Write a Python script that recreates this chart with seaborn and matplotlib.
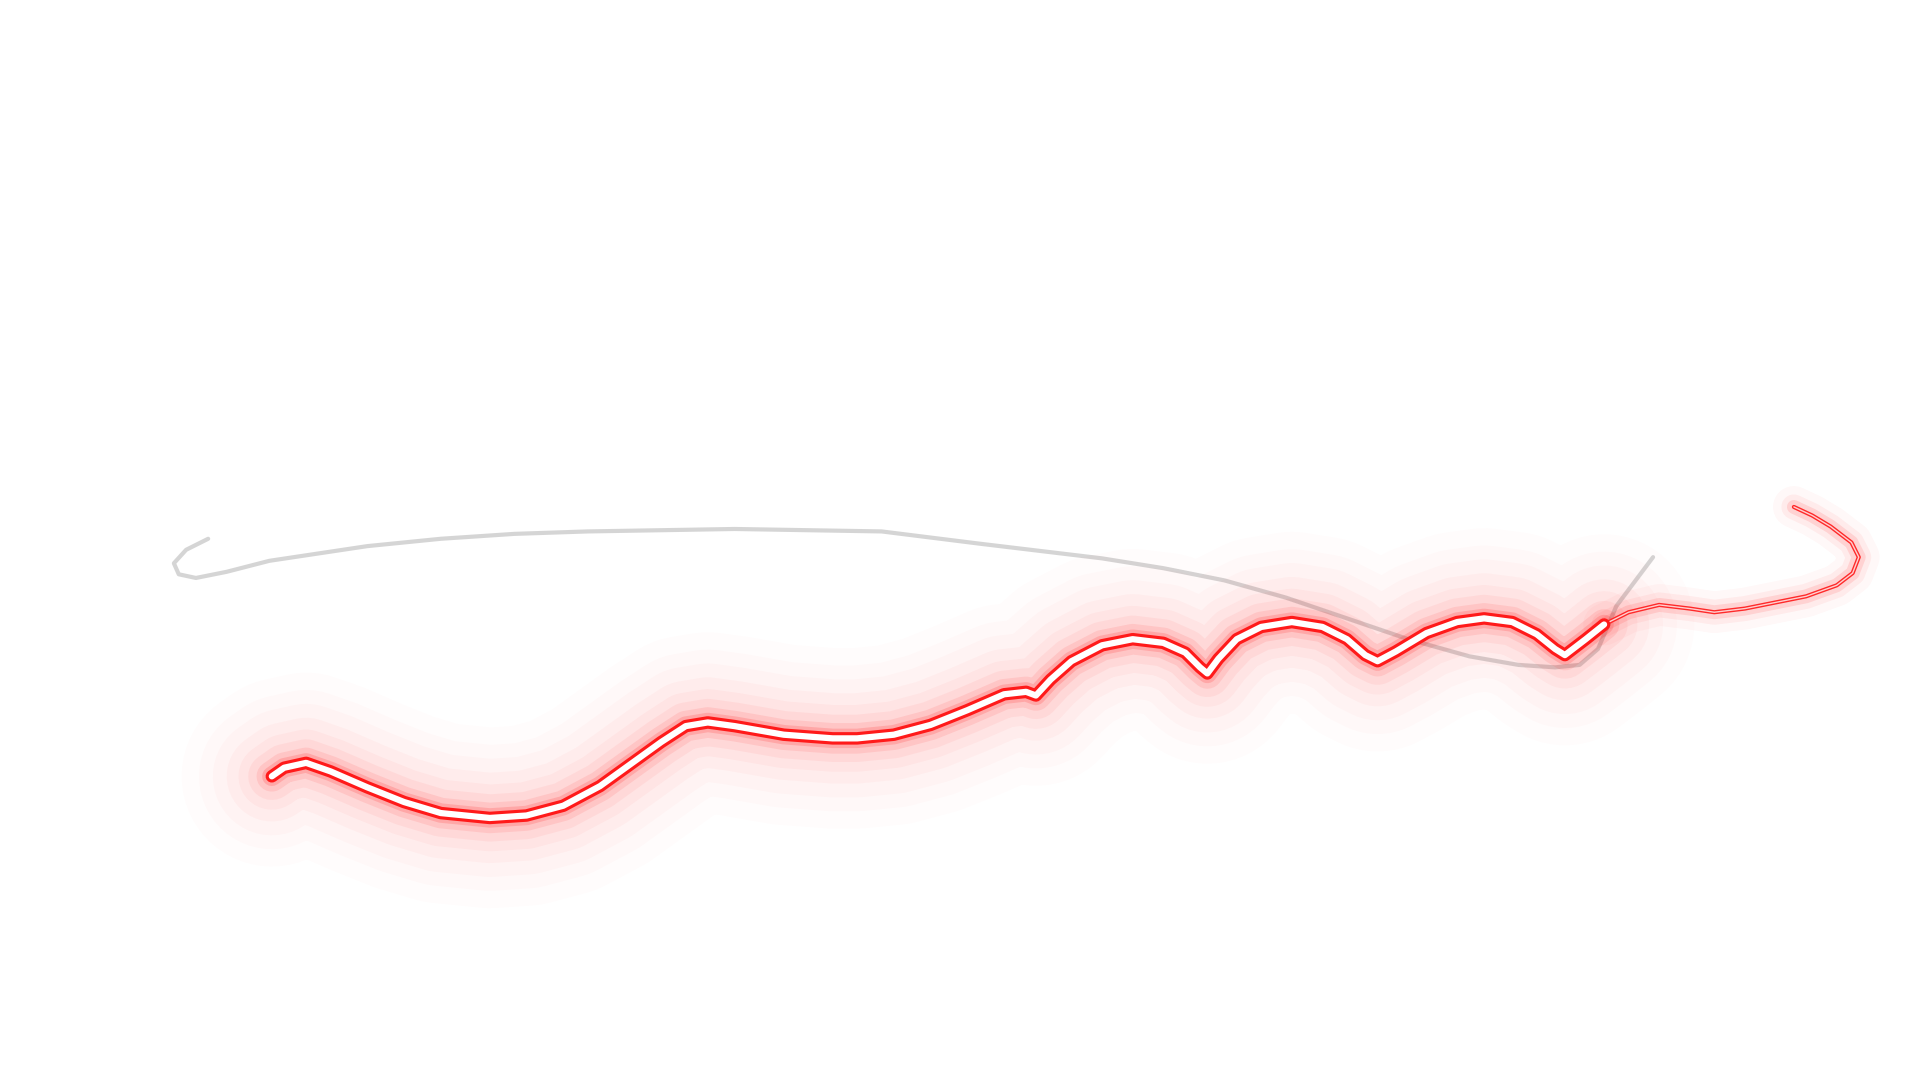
import numpy as np
import pandas as pd
import matplotlib.pyplot as plt
import seaborn as sbn

# main red glowing series (thick part)
red_x = [222, 232, 250, 270, 300, 330, 360, 400, 430, 460, 490, 515, 540, 560, 578, 600, 640, 680,
         700, 730, 760, 790, 820, 838, 846, 858, 875, 900, 925, 950, 968, 980, 986, 995, 1010, 1030,
         1055, 1080, 1100, 1115, 1125, 1140, 1165, 1190, 1212, 1235, 1255, 1270, 1278, 1295, 1310]
red_y = [634, 627, 623, 630, 643, 655, 664, 668, 666, 658, 642, 624, 606, 593, 590, 593, 600, 603,
         603, 600, 592, 580, 567, 565, 568, 555, 540, 527, 522, 525, 533, 545, 550, 538, 522, 512,
         508, 512, 522, 535, 540, 532, 517, 508, 505, 508, 518, 530, 535, 522, 510]

# thin tail of the red series
tail_x = [1310, 1330, 1355, 1380, 1400, 1425, 1450, 1475, 1500, 1513, 1518, 1512, 1495, 1480, 1465]
tail_y = [510, 500, 494, 497, 500, 497, 492, 487, 478, 468, 455, 443, 430, 421, 414]

# faint grey series
grey_x = [170, 152, 142, 146, 160, 185, 220, 260, 300, 360, 420, 480, 540, 600, 660, 720, 760,
          800, 850, 900, 950, 1000, 1050, 1100, 1150, 1200, 1240, 1270, 1290, 1305, 1320, 1335, 1350]
grey_y = [440, 449, 460, 469, 472, 467, 458, 452, 446, 440, 436, 434, 433, 432, 433, 434, 439,
          444, 450, 456, 464, 474, 488, 505, 522, 536, 543, 545, 543, 530, 495, 475, 455]

red = pd.DataFrame({'x': red_x, 'y': red_y})
tail = pd.DataFrame({'x': tail_x, 'y': tail_y})
grey = pd.DataFrame({'x': grey_x, 'y': grey_y})

fig = plt.figure(figsize=(19.2, 10.8), dpi=100)
ax = fig.add_axes([0, 0, 1, 1])

kw = dict(sort=False, ax=ax, solid_capstyle='round', solid_joinstyle='round')
sbn.lineplot(data=grey, x='x', y='y', color='#c4c4c4', lw=3, alpha=0.7, **kw)

# glow: wide, faint strokes first
for lw, a in [(130, 0.012), (105, 0.015), (85, 0.02), (65, 0.03), (48, 0.04), (34, 0.06), (22, 0.1), (14, 0.18)]:
    sbn.lineplot(data=red, x='x', y='y', color='#ff2020', lw=lw, alpha=a, **kw)
for lw, a in [(30, 0.03), (18, 0.06), (10, 0.12)]:
    sbn.lineplot(data=tail, x='x', y='y', color='#ff2020', lw=lw, alpha=a, **kw)
sbn.lineplot(data=tail, x='x', y='y', color='#ff2a2a', lw=3, **kw)
sbn.lineplot(data=tail, x='x', y='y', color='#ffd0d0', lw=1, **kw)
sbn.lineplot(data=red, x='x', y='y', color='#ff1a1a', lw=9, **kw)
sbn.lineplot(data=red, x='x', y='y', color='white', lw=4.5, **kw)

ax.set_xlim(0, 1568)
ax.set_ylim(882, 0)
ax.axis('off')
fig.savefig('out.png', dpi=100, facecolor='white')
